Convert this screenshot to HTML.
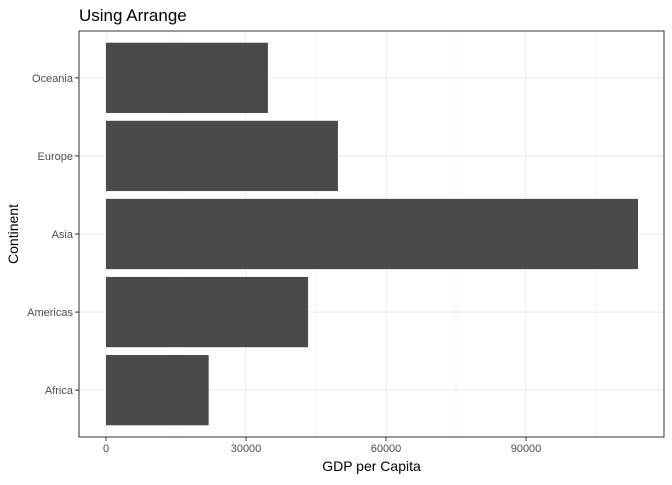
<!DOCTYPE html>
<html><head><meta charset="utf-8"><style>
body{margin:0;background:#fff;font-family:"Liberation Sans",Arial,sans-serif}
</style></head><body>
<svg id="c" width="672" height="480" xmlns="http://www.w3.org/2000/svg"></svg>
<script>
const categories=["Africa","Americas","Asia","Europe","Oceania"];
const values=[22000,43300,114000,49700,34700];
const xTicks=[0,30000,60000,90000];
const xTickLabels=["0","30000","60000","90000"];
const svg=document.getElementById('c');
const NS="http://www.w3.org/2000/svg";
const L=79,R=664,T=31,B=437;
const x0=106,pxPer=140/30000;
const xs=v=>x0+v*pxPer;
const step=(B-T)/(categories.length-1+1.2);
const ys=i=>B-step*(i+0.6);
function el(t,a,txt){const e=document.createElementNS(NS,t);for(const k in a)e.setAttribute(k,a[k]);if(txt!==undefined)e.textContent=txt;svg.appendChild(e);return e;}
let e=el('rect',{x:L,y:T,width:R-L,height:B-T,fill:'#fff'});

for(let i=0;i<xTicks.length;i++){const v=xTicks[i]+15000;const x=xs(v);if(x<R){e=el('line',{x1:x,x2:x,y1:T,y2:B,stroke:'#ebebeb','stroke-width':0.6});}}
xTicks.forEach(v=>{e=el('line',{x1:xs(v),x2:xs(v),y1:T,y2:B,stroke:'#ebebeb','stroke-width':1.1});});
categories.forEach((c,i)=>{e=el('line',{x1:L,x2:R,y1:ys(i),y2:ys(i),stroke:'#ebebeb','stroke-width':1.1});});
const bh=step*0.9;
categories.forEach((c,i)=>{
 e=el('rect',{x:xs(0),y:ys(i)-bh/2,width:xs(values[i])-xs(0),height:bh,fill:'#4a4a4a'});
 
 e=el('line',{x1:L-4,x2:L,y1:ys(i),y2:ys(i),stroke:'#333','stroke-width':1});
 
 e=el('text',{x:L-6,y:ys(i)+4,'text-anchor':'end','font-size':11,fill:'#4d4d4d'},c);
 
});
xTicks.forEach((v,i)=>{
 e=el('line',{x1:xs(v),x2:xs(v),y1:B,y2:B+4,stroke:'#333','stroke-width':1});
 
 e=el('text',{x:xs(v),y:B+15,'text-anchor':'middle','font-size':11,fill:'#4d4d4d'},xTickLabels[i]);
 
});
e=el('rect',{x:L,y:T,width:R-L,height:B-T,fill:'none',stroke:'#333','stroke-width':1});

e=el('text',{x:(L+R)/2,y:471,'text-anchor':'middle','font-size':14,fill:'#000'},'GDP per Capita');

e=el('text',{x:0,y:0,'text-anchor':'middle','font-size':14,fill:'#000',transform:`translate(18,${(T+B)/2}) rotate(-90)`},'Continent');

e=el('text',{x:79,y:21,'font-size':17,fill:'#000'},'Using Arrange');

</script>
</body></html>
